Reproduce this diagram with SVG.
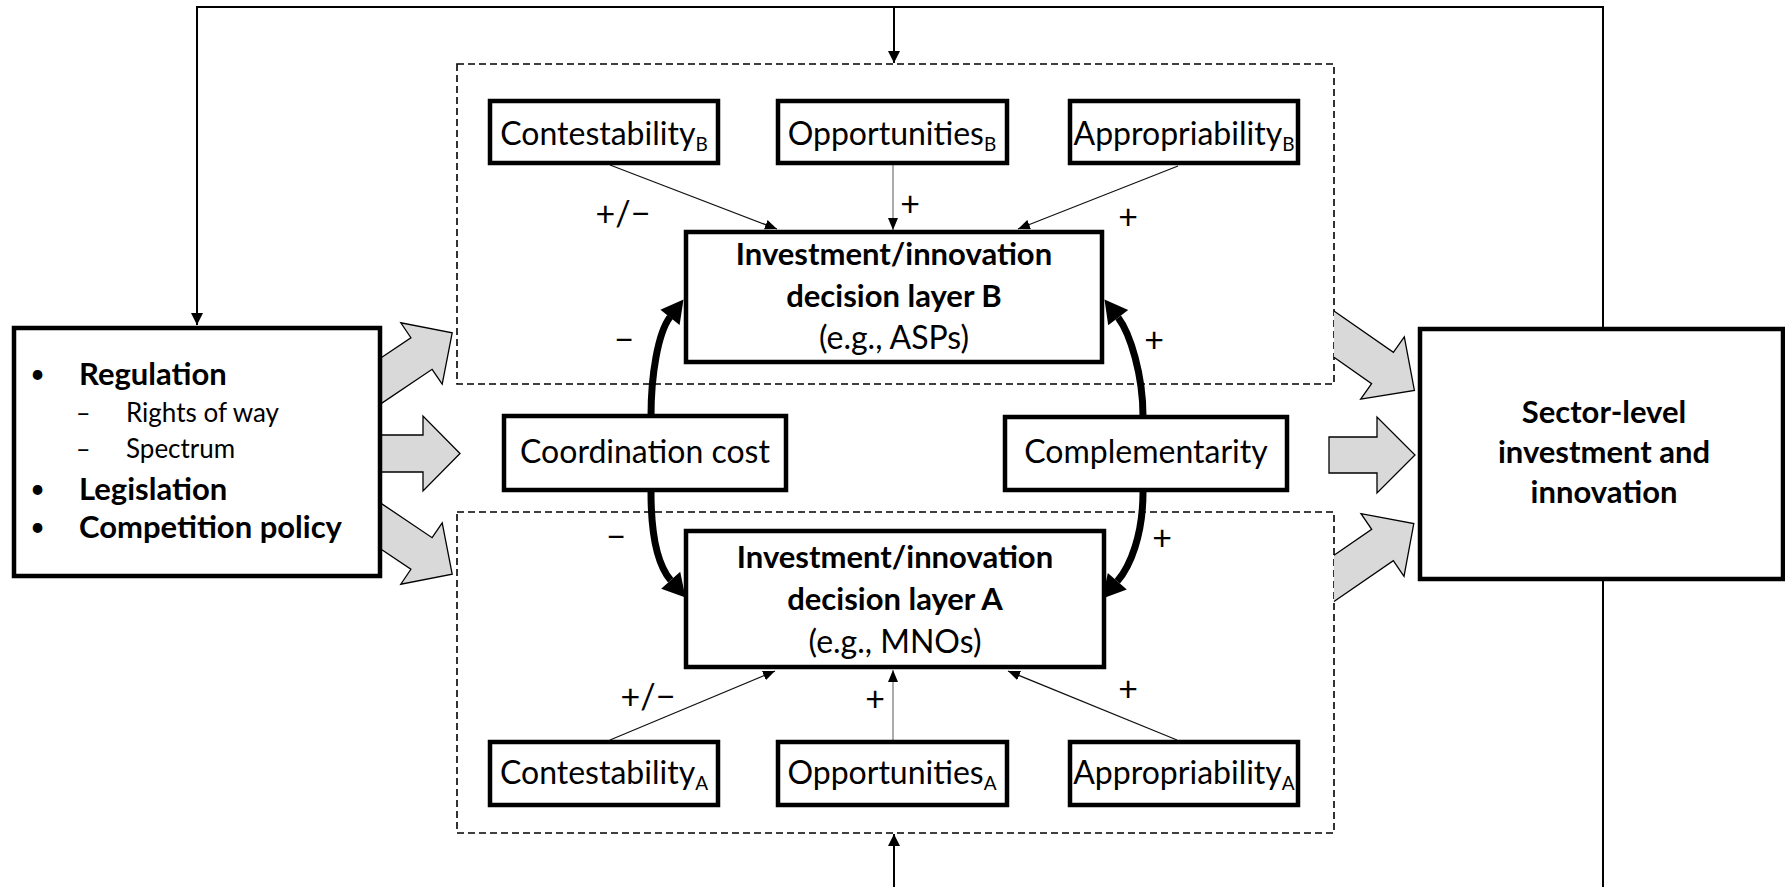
<svg xmlns="http://www.w3.org/2000/svg" width="1785" height="887" viewBox="0 0 1785 887">
<style>
text{font-family:Lato,"Open Sans","Liberation Sans",sans-serif;fill:#000}
.box{fill:#fff;stroke:#000;stroke-width:4.5}
.dash{fill:none;stroke:#000;stroke-width:1.6;stroke-dasharray:7 4}
.t{font-size:32px;text-anchor:middle}
.b{font-size:31px;font-weight:bold}
.bc{font-size:31px;font-weight:bold;text-anchor:middle}
.sub{font-size:19px}
.lab{font-size:34px;text-anchor:middle}
.bul{font-size:26px}
.blk{fill:#d9d9d9;stroke:#000;stroke-width:1.3;stroke-linejoin:miter}
.fb{fill:none;stroke:#000;stroke-width:2}
.thin{fill:none;stroke:#111;stroke-width:1.2}
.gray{fill:none;stroke:#888;stroke-width:1.4}
.thick{fill:none;stroke:#000;stroke-width:7}
</style>
<defs>
<marker id="ah" viewBox="0 0 12 12" refX="12" refY="6" markerWidth="12" markerHeight="12" markerUnits="userSpaceOnUse" orient="auto"><path d="M0,0 L12,6 L0,12 z" fill="#000"/></marker>
<marker id="as" viewBox="0 0 12 10" refX="12" refY="5" markerWidth="12" markerHeight="10" markerUnits="userSpaceOnUse" orient="auto"><path d="M0,0 L12,5 L0,10 z" fill="#000"/></marker>
</defs>

<g id="layerB-container"><rect class="dash" x="457" y="64" width="877" height="320"/></g>
<g id="layerA-container"><rect class="dash" x="457" y="512" width="877" height="321"/></g>

<g id="connectors">
  <!-- block arrows -->
  <path class="blk" d="M380,404.4 L432.1,369.3 L442.2,384.2 L452.2,332.8 L400.8,322.8 L410.9,337.7 L380,358.5"/>
  <path class="blk" d="M380,435 L423,435 L423,416 L460,453.5 L423,491 L423,472 L380,472"/>
  <path class="blk" d="M380,502.6 L432.1,537.7 L442.2,522.8 L452.2,574.2 L400.8,584.2 L410.9,569.3 L380,548.5"/>
  <path class="blk" d="M1334,311 L1393.4,352.4 L1404.3,336.9 L1414.4,390.4 L1360.7,399.1 L1371.6,383.6 L1334,357.3"/>
  <path class="blk" d="M1329,437 L1377,437 L1377,417 L1415,455 L1377,493 L1377,473 L1329,473 Z"/>
  <path class="blk" d="M1334,555.3 L1371.7,529.3 L1361,513.7 L1413.8,523.5 L1404,576.3 L1393.3,560.7 L1334,601.5"/>
  <!-- feedback lines -->
  <path class="fb" d="M1603,331 V7 H197 V325" marker-end="url(#ah)"/>
  <path class="fb" d="M894,7 V63" marker-end="url(#ah)"/>
  <path class="fb" d="M1603,577 V900 H894 V834" marker-end="url(#ah)"/>
  <!-- thin influence arrows -->
  <path class="thin" d="M610,165 L777,229" marker-end="url(#as)"/>
  <path class="gray" d="M893,165 V230" marker-end="url(#as)"/>
  <path class="thin" d="M1178,166 L1018,229" marker-end="url(#as)"/>
  <path class="thin" d="M610,740 L775,671" marker-end="url(#as)"/>
  <path class="gray" d="M893,740 V670" marker-end="url(#as)"/>
  <path class="thin" d="M1177,740 L1008,671" marker-end="url(#as)"/>
  <!-- thick curved arrows -->
  <path class="thick" d="M651,416 C651,375 658,333 670,317"/>
  <polygon points="683.5,299.5 679.6,325 660.4,309.8" fill="#000"/>
  <path class="thick" d="M651,492 C651,535 657.7,565.1 670.7,580.3"/>
  <polygon points="685.5,597.5 680.2,571.8 661.2,588.8" fill="#000"/>
  <path class="thick" d="M1143,416 C1143,375 1130.2,333.6 1118.2,317.6"/>
  <polygon points="1104.5,299.5 1128.2,310 1108.2,325.2" fill="#000"/>
  <path class="thick" d="M1143,492 C1143,535 1130.3,566.1 1117.3,581.3"/>
  <polygon points="1102.5,598.5 1126.8,589.6 1107.8,573" fill="#000"/>
  <!-- signs -->
  <text class="lab" x="623" y="226">+/−</text>
  <text class="lab" x="910" y="216">+</text>
  <text class="lab" x="1128" y="229">+</text>
  <text class="lab" x="624" y="352">−</text>
  <text class="lab" x="1154" y="352">+</text>
  <text class="lab" x="616" y="549">−</text>
  <text class="lab" x="1162" y="550">+</text>
  <text class="lab" x="648" y="709">+/−</text>
  <text class="lab" x="875" y="711">+</text>
  <text class="lab" x="1128" y="701">+</text>
</g>

<g id="regulation">
  <rect class="box" x="14" y="328" width="366" height="248"/>
  <text class="bul" x="30" y="383">•</text><text class="b" x="79" y="385">Regulation</text>
  <text x="76" y="422" font-size="25">–</text><text x="126" y="422" font-size="26">Rights of way</text>
  <text x="76" y="458" font-size="25">–</text><text x="126" y="458" font-size="26">Spectrum</text>
  <text class="bul" x="30" y="498">•</text><text class="b" x="79" y="500">Legislation</text>
  <text class="bul" x="30" y="536">•</text><text class="b" x="79" y="538">Competition policy</text>
</g>

<g id="contestability-B"><rect class="box" x="490" y="101" width="228" height="62"/><text class="t" x="604" y="145">Contestability<tspan class="sub" dy="6">B</tspan></text></g>
<g id="opportunities-B"><rect class="box" x="778" y="101" width="229" height="62"/><text class="t" x="892" y="145">Opportunities<tspan class="sub" dy="6">B</tspan></text></g>
<g id="appropriability-B"><rect class="box" x="1070" y="101" width="228" height="62"/><text class="t" x="1184" y="145">Appropriability<tspan class="sub" dy="6">B</tspan></text></g>

<g id="decision-layer-B">
  <rect class="box" x="686" y="232" width="416" height="130"/>
  <text class="bc" x="894" y="265" font-size="32">Investment/innovation</text>
  <text class="bc" x="894" y="307" font-size="32">decision layer B</text>
  <text class="t" x="894" y="349" font-size="29">(e.g., ASPs)</text>
</g>

<g id="coordination-cost"><rect class="box" x="504" y="416" width="282" height="74"/><text class="t" x="645" y="463">Coordination cost</text></g>
<g id="complementarity"><rect class="box" x="1005" y="417" width="282" height="73"/><text class="t" x="1146" y="463">Complementarity</text></g>

<g id="decision-layer-A">
  <rect class="box" x="686" y="531" width="418" height="136"/>
  <text class="bc" x="895" y="568" font-size="32">Investment/innovation</text>
  <text class="bc" x="895" y="610" font-size="32">decision layer A</text>
  <text class="t" x="895" y="653" font-size="29">(e.g., MNOs)</text>
</g>

<g id="contestability-A"><rect class="box" x="490" y="742" width="228" height="63"/><text class="t" x="604" y="784">Contestability<tspan class="sub" dy="6">A</tspan></text></g>
<g id="opportunities-A"><rect class="box" x="778" y="742" width="229" height="63"/><text class="t" x="892" y="784">Opportunities<tspan class="sub" dy="6">A</tspan></text></g>
<g id="appropriability-A"><rect class="box" x="1070" y="742" width="228" height="63"/><text class="t" x="1184" y="784">Appropriability<tspan class="sub" dy="6">A</tspan></text></g>

<g id="sector-level">
  <rect class="box" x="1420" y="329" width="363" height="250"/>
  <text class="bc" x="1604" y="423">Sector-level</text>
  <text class="bc" x="1604" y="463">investment and</text>
  <text class="bc" x="1604" y="503">innovation</text>
</g>
</svg>
